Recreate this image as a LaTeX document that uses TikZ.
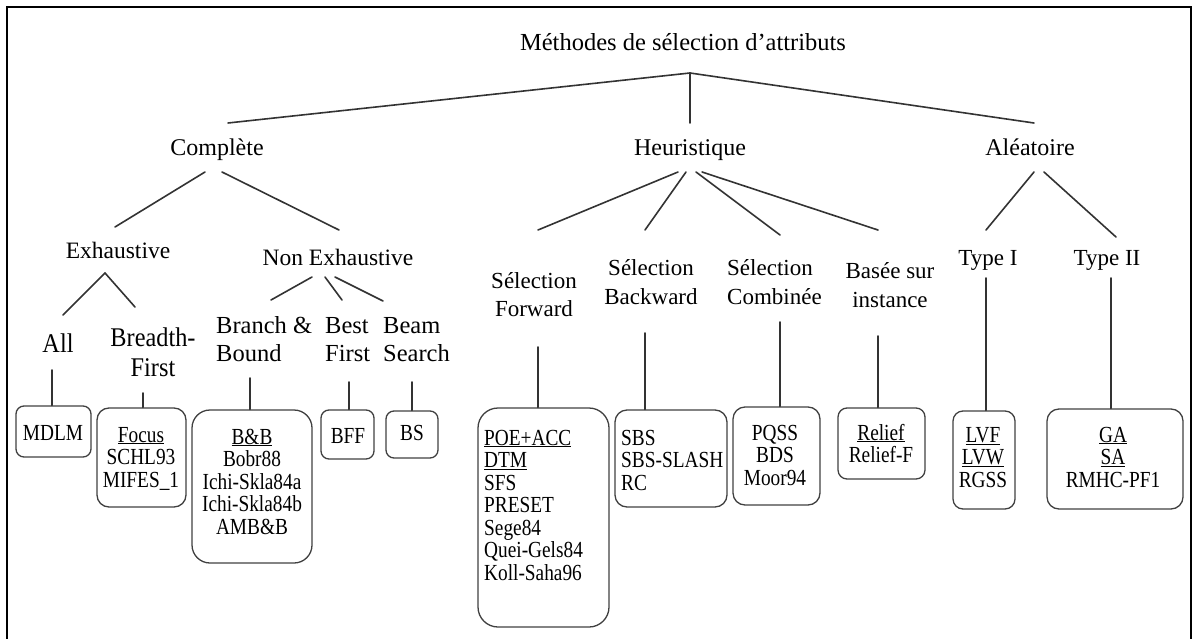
\documentclass[tikz,border=0pt]{standalone}
\usepackage{fontspec}
\setmainfont{Liberation Serif}
\newfontfamily\boxfont[FakeStretch=0.84]{Liberation Serif}
\newfontfamily\leaffont[FakeStretch=0.9]{Liberation Serif}
\begin{document}
\begin{tikzpicture}[x=1pt,y=-1pt,
  edge/.style={line width=1.6pt, draw=black!80, line cap=round},
  head/.style={inner sep=0pt, anchor=base, font=\fontsize{24}{28.5}\selectfont},
  sub/.style={inner sep=0pt, anchor=base, font=\fontsize{23}{29}\selectfont},
  leaf/.style={inner sep=0pt, anchor=base, font=\leaffont\fontsize{27}{28}\selectfont},
  box/.style={draw=black!75, line width=1.3pt, inner sep=0pt},
  bt/.style={inner sep=0pt, anchor=base, font=\boxfont\fontsize{23}{22.5}\selectfont}]
\useasboundingbox (0,0) rectangle (1193,639);
% outer frame, open at the bottom
\draw[line width=1.6pt] (7,639) -- (7,7) -- (1191,7) -- (1191,639);

% ---------- headings (multi-line nodes are placed by their last baseline) ----------
\node[head, font=\fontsize{24.5}{28}\selectfont] (root) at (683,51) {Méthodes de sélection d’attributs};
\node[head] (cmp) at (217,156) {Complète};
\node[head] (heu) at (690,156) {Heuristique};
\node[head] (ale) at (1030,156) {Aléatoire};

\node[head, font=\fontsize{23.5}{28}\selectfont] (exh) at (118,258) {Exhaustive};
\node[head, font=\fontsize{23.5}{28}\selectfont] (nex) at (338,265) {Non Exhaustive};

\node[leaf] (all) at (58,352) {All};
\node[leaf, align=center, font=\leaffont\fontsize{27}{30}\selectfont] (bfs) at (153,376) {Breadth-\\First};
\node[head, align=left, anchor=base west, font=\fontsize{24.5}{28}\selectfont] (bnb) at (216,361) {Branch \&\\Bound};
\node[head, align=left, anchor=base west, font=\fontsize{24.5}{28}\selectfont] (bst) at (325,361) {Best\\First};
\node[head, align=left, anchor=base west, font=\fontsize{24.5}{28}\selectfont] (bms) at (383,361) {Beam\\Search};

\node[sub, align=center, font=\fontsize{23}{28}\selectfont] (sfw) at (534,316) {Sélection\\Forward};
\node[sub, align=center] (sbw) at (651,304) {Sélection\\Backward};
\node[sub, align=left, anchor=base west] (scb) at (727,304) {Sélection\\Combinée};
\node[sub, align=center] (bsi) at (890,307) {Basée sur\\instance};
\node[sub] (t1) at (988,265) {Type I};
\node[sub] (t2) at (1107,265) {Type II};

% ---------- leaf boxes ----------
\node[box, rounded corners=8pt,  minimum width=75pt,  minimum height=51pt]  (b-mdlm)  at (53.5,431.5) {};
\node[box, rounded corners=12pt, minimum width=89pt,  minimum height=99pt]  (b-focus) at (141.5,457.5) {};
\node[box, rounded corners=18pt, minimum width=120pt, minimum height=153pt] (b-bb)    at (252,486.5) {};
\node[box, rounded corners=8pt,  minimum width=53pt,  minimum height=49pt]  (b-bff)   at (347.5,434.5) {};
\node[box, rounded corners=8pt,  minimum width=52pt,  minimum height=47pt]  (b-bs)    at (412,434.5) {};
\node[box, rounded corners=20pt, minimum width=131pt, minimum height=219pt] (b-poe)   at (543.5,517.5) {};
\node[box, rounded corners=12pt, minimum width=112pt, minimum height=97pt]  (b-sbs)   at (671,458.5) {};
\node[box, rounded corners=12pt, minimum width=87pt,  minimum height=98pt]  (b-pqss)  at (776.5,456) {};
\node[box, rounded corners=9pt,  minimum width=87pt,  minimum height=71pt]  (b-rel)   at (881.5,443.5) {};
\node[box, rounded corners=10pt, minimum width=62pt,  minimum height=98pt]  (b-lvf)   at (984,460) {};
\node[box, rounded corners=12pt, minimum width=136pt, minimum height=100pt] (b-ga)    at (1115,459) {};

% ---------- box contents ----------
\node[bt] (x-mdlm) at (53,440) {MDLM};
\node[bt, align=center] (x-focus) at (141,487) {\underline{Focus}\\SCHL93\\MIFES\_1};
\node[bt, align=center] (x-bb) at (252,534) {\underline{B\&B}\\Bobr88\\Ichi-Skla84a\\Ichi-Skla84b\\AMB\&B};
\node[bt] (x-bff) at (348,443) {BFF};
\node[bt] (x-bs) at (412,440) {BS};
\node[bt, align=left, anchor=base west] (x-poe) at (484,580) {\underline{POE+ACC}\\\underline{DTM}\\SFS\\PRESET\\Sege84\\Quei-Gels84\\Koll-Saha96};
\node[bt, align=left, anchor=base west] (x-sbs) at (621,490) {SBS\\SBS-SLASH\\RC};
\node[bt, align=center] (x-pqss) at (775,485) {PQSS\\BDS\\Moor94};
\node[bt, align=center] (x-rel) at (881,462.5) {\underline{Relief}\\Relief-F};
\node[bt, align=center] (x-lvf) at (983,487) {\underline{LVF}\\\underline{LVW}\\RGSS};
\node[bt, align=center] (x-ga) at (1113,487) {\underline{GA}\\\underline{SA}\\RMHC-PF1};

% ---------- tree connectors ----------
\coordinate (j) at (690,73);
\draw[edge] (j) -- (228,123);
\draw[edge] (j) -- (690,123);
\draw[edge] (j) -- (1034,123);

\draw[edge] (205,172) -- (115,227);
\draw[edge] (222,172) -- (339,230);

\draw[edge] (105,273) -- (63,315);
\draw[edge] (105,273) -- (135,307);

\draw[edge] (312,277) -- (271,300);
\draw[edge] (325,277) -- (342,300);
\draw[edge] (335,277) -- (383,301);

\draw[edge] (678,172) -- (538,230);
\draw[edge] (686,172) -- (645,230);
\draw[edge] (696,172) -- (780,235);
\draw[edge] (702,172) -- (878,230);

\draw[edge] (1034,172) -- (986,230);
\draw[edge] (1044,172) -- (1116,237);

% ---------- drops to the boxes ----------
\draw[edge] (52,370) -- (b-mdlm.north -| 52,0);
\draw[edge] (143,393) -- (b-focus.north -| 143,0);
\draw[edge] (250,378) -- (b-bb.north -| 250,0);
\draw[edge] (349,382) -- (b-bff.north -| 349,0);
\draw[edge] (412,382) -- (b-bs.north);
\draw[edge] (538,347) -- (b-poe.north -| 538,0);
\draw[edge] (645,333) -- (b-sbs.north -| 645,0);
\draw[edge] (780,322) -- (b-pqss.north -| 780,0);
\draw[edge] (878,336) -- (b-rel.north -| 878,0);
\draw[edge] (986,278) -- (b-lvf.north -| 986,0);
\draw[edge] (1111,278) -- (b-ga.north -| 1111,0);
\end{tikzpicture}
\end{document}
